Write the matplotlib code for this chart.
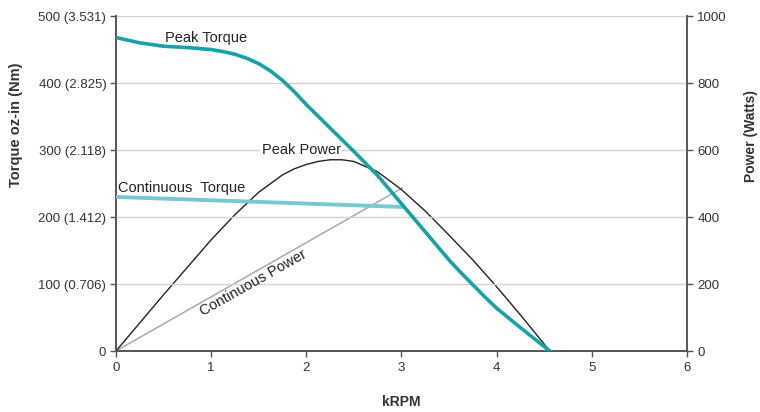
import matplotlib.pyplot as plt

plt.rcParams['font.family'] = ['Liberation Sans', 'DejaVu Sans']

# speed in kRPM, torque in oz-in, power in Watts
peak_torque_krpm = [0, 0.25, 0.5, 0.75, 1.0, 1.125, 1.25, 1.375, 1.5, 1.625,
                    1.75, 1.875, 2.0, 2.25, 2.5, 2.75, 3.0, 3.25, 3.5, 3.625,
                    3.75, 3.875, 4.0, 4.25, 4.56]
peak_torque = [468, 460, 455, 453, 450, 447, 443, 437, 429, 418,
               404, 387, 368, 333, 298, 262, 220, 178, 136, 117,
               99, 81, 64, 35, 0]

cont_torque_krpm = [0, 3.03]
cont_torque = [230, 215]

peak_power_krpm = [0, 0.25, 0.5, 0.75, 1.0, 1.25, 1.5, 1.75, 1.875, 2.0,
                   2.125, 2.25, 2.375, 2.5, 2.75, 3.0, 3.25, 3.5, 3.75, 4.0,
                   4.25, 4.56]
peak_power = [0, 84, 168, 250, 332, 407, 474, 526, 544, 557,
              566, 571, 571, 566, 535, 482, 418, 346, 272, 192,
              108, 0]

cont_power_krpm = [0, 3.01]
cont_power = [0, 487]

torque_ticks = [0, 100, 200, 300, 400, 500]
torque_tick_labels = ['0', '100 (0.706)', '200 (1.412)', '300 (2.118)',
                      '400 (2.825)', '500 (3.531)']
power_ticks = [0, 200, 400, 600, 800, 1000]

TEXT = '#333333'
SPINE = '#555555'

fig = plt.figure(figsize=(7.6, 4.12), dpi=100)
ax = fig.add_axes([0.1526, 0.148, 0.7512, 0.813])
ax2 = ax.twinx()

ax.set_xlim(0, 6)
ax.set_ylim(0, 500)
ax2.set_ylim(0, 1000)

for y in torque_ticks[1:]:
    ax.axhline(y, color='#d4d4d4', lw=1, zorder=0)

ax2.plot(cont_power_krpm, cont_power, color='#aaaaaa', lw=1.1, zorder=2)
ax2.plot(peak_power_krpm, peak_power, color='#222222', lw=1.0, zorder=3)
ax.plot(cont_torque_krpm, cont_torque, color='#78c8d2', lw=2.8,
        solid_capstyle='butt', zorder=3)
ax.plot(peak_torque_krpm, peak_torque, color='#17a2aa', lw=2.6, zorder=4)
ax.set_zorder(ax2.get_zorder() + 1)
ax.patch.set_visible(False)

ax.text(0.52, 467, 'Peak Torque', fontsize=10.5, color='#222222', va='center')
ax.text(1.53, 300, 'Peak Power', fontsize=10.5, color='#222222', va='center',
        bbox=dict(facecolor='white', edgecolor='none', pad=1))
ax.text(0.02, 243, 'Continuous  Torque', fontsize=10.5, color='#222222',
        va='center')
ax.text(1.44, 102, 'Continuous Power', fontsize=10.5, color='#222222',
        ha='center', va='center', rotation=29.5)

ax.set_yticks(torque_ticks)
ax.set_yticklabels(torque_tick_labels)
ax.set_xticks(range(7))
ax2.set_yticks(power_ticks)

for a in (ax, ax2):
    for s in a.spines.values():
        s.set_color(SPINE)
        s.set_linewidth(1.2)
    a.spines['top'].set_visible(False)
    a.tick_params(colors=SPINE, labelcolor=TEXT, labelsize=9.5,
                  length=4, width=1)
ax.tick_params(axis='y', pad=3)
ax.tick_params(axis='x', pad=4)

ax.set_xlabel('kRPM', fontsize=10, fontweight='bold', color=TEXT)
ax.xaxis.set_label_coords(0.5, -0.131)
ax.set_ylabel('Torque oz-in (Nm)', fontsize=10.5, fontweight='bold', color=TEXT)
ax.yaxis.set_label_coords(-0.162, 0.675)
ax2.set_ylabel('Power (Watts)', fontsize=10, fontweight='bold', color=TEXT)
ax2.yaxis.set_label_coords(1.100, 0.642)

fig.savefig('out.png', dpi=100)
